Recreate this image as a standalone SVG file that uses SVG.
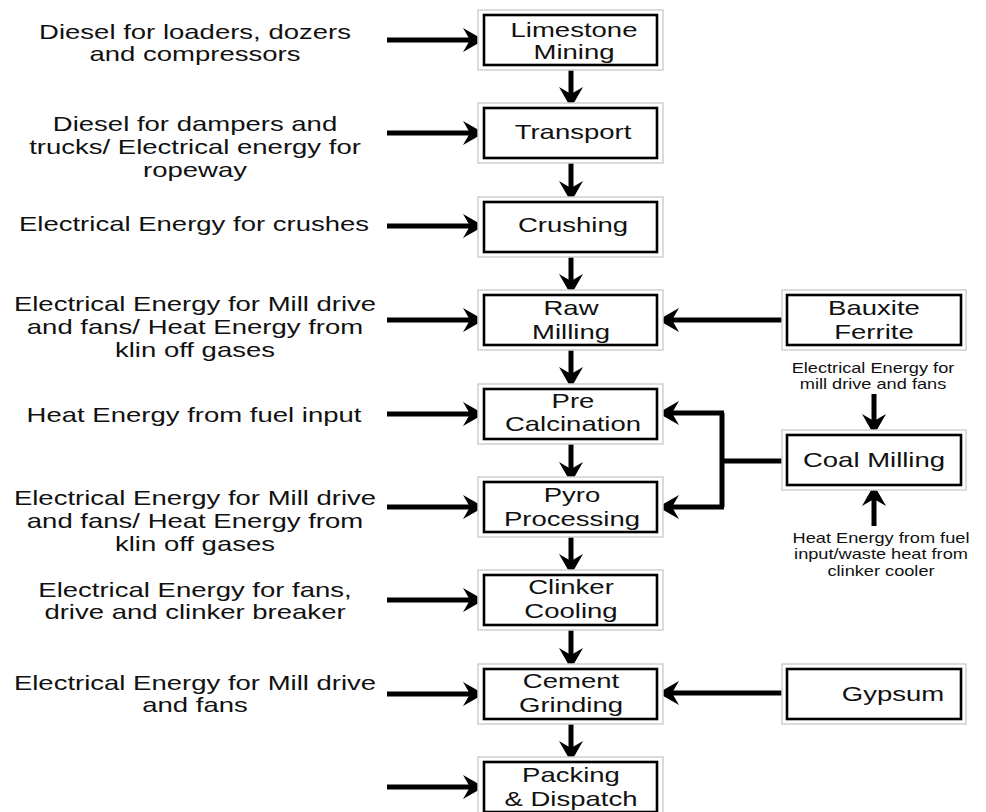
<svg xmlns="http://www.w3.org/2000/svg" width="986" height="812" viewBox="0 0 986 812">
<style>
.bg{fill:#fff}
.outer{fill:#fff;stroke:#cfcfcf;stroke-width:1.5}
.inner{fill:#fff;stroke:#000;stroke-width:2.6}
.t{font-family:"Liberation Sans",Arial,sans-serif;font-size:21px;fill:#111;text-anchor:middle}
.s{font-family:"Liberation Sans",Arial,sans-serif;font-size:14px;fill:#111;text-anchor:middle}
.c{fill:none;stroke:#000;stroke-width:5}
</style>
<defs>
<marker id="ah" viewBox="0 -13 21 26" refX="7" refY="0" markerWidth="21" markerHeight="26" markerUnits="userSpaceOnUse" orient="auto">
<path d="M0,-12 L21,0 L0,12 L7,0 Z" fill="#000"/>
</marker>
</defs>
<rect class="bg" x="0" y="0" width="986" height="812"/>

<g id="connectors">
<line class="c" x1="387" y1="40" x2="470" y2="40" marker-end="url(#ah)"/>
<line class="c" x1="387" y1="133" x2="470" y2="133" marker-end="url(#ah)"/>
<line class="c" x1="387" y1="226" x2="470" y2="226" marker-end="url(#ah)"/>
<line class="c" x1="387" y1="320" x2="470" y2="320" marker-end="url(#ah)"/>
<line class="c" x1="387" y1="414" x2="470" y2="414" marker-end="url(#ah)"/>
<line class="c" x1="387" y1="507" x2="470" y2="507" marker-end="url(#ah)"/>
<line class="c" x1="387" y1="600" x2="470" y2="600" marker-end="url(#ah)"/>
<line class="c" x1="387" y1="694" x2="470" y2="694" marker-end="url(#ah)"/>
<line class="c" x1="387" y1="787" x2="470" y2="787" marker-end="url(#ah)"/>
<line class="c" x1="571" y1="66" x2="571" y2="94" marker-end="url(#ah)"/>
<line class="c" x1="571" y1="159" x2="571" y2="188" marker-end="url(#ah)"/>
<line class="c" x1="571" y1="253" x2="571" y2="281" marker-end="url(#ah)"/>
<line class="c" x1="571" y1="346" x2="571" y2="374" marker-end="url(#ah)"/>
<line class="c" x1="571" y1="440" x2="571" y2="469" marker-end="url(#ah)"/>
<line class="c" x1="571" y1="533" x2="571" y2="561" marker-end="url(#ah)"/>
<line class="c" x1="571" y1="626" x2="571" y2="655" marker-end="url(#ah)"/>
<line class="c" x1="571" y1="720" x2="571" y2="748" marker-end="url(#ah)"/>
<line class="c" x1="787" y1="320" x2="672" y2="320" marker-end="url(#ah)"/>
<line class="c" x1="787" y1="693" x2="672" y2="693" marker-end="url(#ah)"/>
<line class="c" x1="787" y1="461" x2="722" y2="461"/>
<polyline class="c" points="722,413 722,507"/>
<line class="c" x1="724" y1="413" x2="672" y2="413" marker-end="url(#ah)"/>
<line class="c" x1="724" y1="507" x2="672" y2="507" marker-end="url(#ah)"/>
<line class="c" x1="874" y1="394" x2="874" y2="421" marker-end="url(#ah)"/>
<line class="c" x1="874" y1="526" x2="874" y2="499" marker-end="url(#ah)"/>
</g>

<g id="limestone">
<rect class="outer" x="478" y="10" width="185" height="60"/>
<rect class="inner" x="484" y="15" width="173" height="50"/>
<text class="t" transform="translate(574 0) scale(1.31 1)"><tspan x="0" y="37">Limestone</tspan><tspan x="0" y="59">Mining</tspan></text>
</g>
<g id="transport">
<rect class="outer" x="478" y="103" width="185" height="60"/>
<rect class="inner" x="484" y="108" width="173" height="50"/>
<text class="t" transform="translate(573 0) scale(1.31 1)" y="139">Transport</text>
</g>
<g id="crushing">
<rect class="outer" x="478" y="197" width="185" height="60"/>
<rect class="inner" x="484" y="202" width="173" height="50"/>
<text class="t" transform="translate(573 0) scale(1.31 1)" y="232">Crushing</text>
</g>
<g id="rawmilling">
<rect class="outer" x="478" y="290" width="185" height="60"/>
<rect class="inner" x="484" y="295" width="173" height="50"/>
<text class="t" transform="translate(571 0) scale(1.31 1)"><tspan x="0" y="315">Raw</tspan><tspan x="0" y="339">Milling</tspan></text>
</g>
<g id="precalcination">
<rect class="outer" x="478" y="384" width="185" height="60"/>
<rect class="inner" x="484" y="389" width="173" height="50"/>
<text class="t" transform="translate(573 0) scale(1.31 1)"><tspan x="0" y="408">Pre</tspan><tspan x="0" y="431">Calcination</tspan></text>
</g>
<g id="pyro">
<rect class="outer" x="478" y="477" width="185" height="60"/>
<rect class="inner" x="484" y="482" width="173" height="50"/>
<text class="t" transform="translate(572 0) scale(1.31 1)"><tspan x="0" y="502">Pyro</tspan><tspan x="0" y="526">Processing</tspan></text>
</g>
<g id="clinker">
<rect class="outer" x="478" y="570" width="185" height="60"/>
<rect class="inner" x="484" y="575" width="173" height="50"/>
<text class="t" transform="translate(571 0) scale(1.31 1)"><tspan x="0" y="594">Clinker</tspan><tspan x="0" y="618">Cooling</tspan></text>
</g>
<g id="cement">
<rect class="outer" x="478" y="664" width="185" height="60"/>
<rect class="inner" x="484" y="669" width="173" height="50"/>
<text class="t" transform="translate(571 0) scale(1.31 1)"><tspan x="0" y="688">Cement</tspan><tspan x="0" y="712">Grinding</tspan></text>
</g>
<g id="packing">
<rect class="outer" x="478" y="757" width="185" height="60"/>
<rect class="inner" x="484" y="762" width="173" height="50"/>
<text class="t" transform="translate(571 0) scale(1.31 1)"><tspan x="0" y="782">Packing</tspan><tspan x="0" y="806">&amp; Dispatch</tspan></text>
</g>
<g id="bauxite">
<rect class="outer" x="782" y="290" width="184" height="60"/>
<rect class="inner" x="787" y="295" width="174" height="50"/>
<text class="t" transform="translate(874 0) scale(1.31 1)"><tspan x="0" y="315">Bauxite</tspan><tspan x="0" y="339">Ferrite</tspan></text>
</g>
<g id="coalmilling">
<rect class="outer" x="782" y="430" width="184" height="60"/>
<rect class="inner" x="787" y="435" width="174" height="50"/>
<text class="t" transform="translate(874 0) scale(1.31 1)" y="467">Coal Milling</text>
</g>
<g id="gypsum">
<rect class="outer" x="782" y="664" width="184" height="60"/>
<rect class="inner" x="787" y="669" width="174" height="50"/>
<text class="t" transform="translate(893 0) scale(1.31 1)" y="701">Gypsum</text>
</g>

<g id="labels">
<text class="t" transform="translate(195 0) scale(1.31 1)"><tspan x="0" y="39">Diesel for loaders, dozers</tspan><tspan x="0" y="61">and compressors</tspan></text>
<text class="t" transform="translate(195 0) scale(1.31 1)"><tspan x="0" y="131">Diesel for dampers and</tspan><tspan x="0" y="154">trucks/ Electrical energy for</tspan><tspan x="0" y="177">ropeway</tspan></text>
<text class="t" transform="translate(194 0) scale(1.31 1)" y="231">Electrical Energy for crushes</text>
<text class="t" transform="translate(195 0) scale(1.31 1)"><tspan x="0" y="311">Electrical Energy for Mill drive</tspan><tspan x="0" y="334">and fans/ Heat Energy from</tspan><tspan x="0" y="357">klin off gases</tspan></text>
<text class="t" transform="translate(194 0) scale(1.31 1)" y="422">Heat Energy from fuel input</text>
<text class="t" transform="translate(195 0) scale(1.31 1)"><tspan x="0" y="505">Electrical Energy for Mill drive</tspan><tspan x="0" y="528">and fans/ Heat Energy from</tspan><tspan x="0" y="551">klin off gases</tspan></text>
<text class="t" transform="translate(195 0) scale(1.31 1)"><tspan x="0" y="597">Electrical Energy for fans,</tspan><tspan x="0" y="619">drive and clinker breaker</tspan></text>
<text class="t" transform="translate(195 0) scale(1.31 1)"><tspan x="0" y="690">Electrical Energy for Mill drive</tspan><tspan x="0" y="712">and fans</tspan></text>
<text class="s" transform="translate(873 0) scale(1.3 1)"><tspan x="0" y="373">Electrical Energy for</tspan><tspan x="0" y="389">mill drive and fans</tspan></text>
<text class="s" transform="translate(881 0) scale(1.3 1)"><tspan x="0" y="543">Heat Energy from fuel</tspan><tspan x="0" y="559">input/waste heat from</tspan><tspan x="0" y="576">clinker cooler</tspan></text>
</g>
</svg>
